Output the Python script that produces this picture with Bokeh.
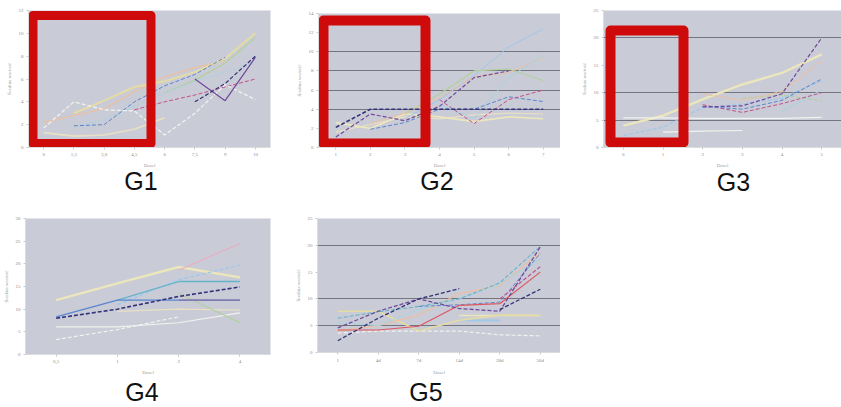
from bokeh.plotting import figure
from bokeh.models import Range1d, FixedTicker, Div
from bokeh.layouts import column, row
from bokeh.embed import file_html
from bokeh.resources import INLINE
import numpy as np

nan = float("nan")

# ---------------- data ----------------
G1_CATS = ["0", "1,5", "3,0", "4,5", "6", "7,5", "9", "10"]
G1_YELLOW = [nan, 3.0, 4.1, 5.3, 5.8, 6.6, 7.8, 10.0]
G1_GREEN = [nan, nan, nan, nan, 4.8, 5.9, 7.4, 9.6]
G1_BLUE = [nan, 1.9, 2.0, 4.0, 5.4, 6.4, 7.9, nan]
G1_NAVY = [nan, nan, nan, nan, nan, 4.0, 5.6, 8.0]
G1_PURPLE = [nan, nan, nan, nan, nan, 6.0, 4.1, 7.9]
G1_PINK = [nan, nan, nan, 3.3, 4.0, 4.6, 5.3, 6.0]
G1_WHITE = [1.7, 4.0, 3.3, 3.2, 1.1, 3.0, 5.5, 4.2]
G1_CREAM = [1.3, 1.0, 1.1, 1.6, 2.6, nan, nan, nan]
G1_TEAL = [nan, 1.8, 2.4, 3.6, 4.8, 5.8, 6.6, 7.4]
G1_PEACH = [2.2, 2.8, 3.4, 4.9, 6.2, 7.0, 7.6, nan]

G2_CATS = ["1", "2", "3", "4", "5", "6", "7"]
G2_NAVY = [2.1, 4.0, 4.0, 4.0, 4.0, 4.0, 4.0]
G2_PURPLE = [1.1, 3.5, 2.8, 4.3, 7.3, 8.0, nan]
G2_LBLUE = [nan, nan, 3.0, 5.0, 7.5, 10.5, 12.4]
G2_GREEN = [nan, nan, 3.5, 5.6, 8.0, 8.2, 7.0]
G2_PEACH = [nan, 2.5, 3.6, 5.2, 7.4, 7.8, 9.4]
G2_MAGENTA = [nan, nan, nan, 5.0, 2.5, 5.0, 6.0]
G2_BLUE = [nan, 1.9, 2.6, 4.0, 4.0, 5.3, 4.8]
G2_CYAN = [nan, nan, nan, 4.5, 3.0, 7.3, 9.6]
G2_CREAM = [1.6, 2.4, 3.2, 3.0, 3.4, 3.6, 3.5]
G2_YELLOW = [2.6, 2.0, 3.5, 3.2, 2.7, 3.2, 3.0]

G3_CATS = ["0", "1", "2", "3", "4", "5"]
G3_LBLUE = [2.2, 3.7, 7.3, 7.9, 9.0, 12.2]
G3_PURPLE = [nan, nan, 7.4, 7.6, 9.8, 20.0]
G3_PEACH = [nan, nan, 9.8, 8.6, 10.2, 15.8]
G3_MAGENTA = [nan, nan, 7.8, 6.4, 8.0, 10.0]
G3_YELLOW = [4.0, 5.8, 8.8, 11.5, 13.6, 17.0]
G3_WHITE = [nan, 2.8, 3.0, 3.1, nan, nan]
G3_CREAM = [5.4, 5.4, 5.3, 5.3, 5.3, 5.5]
G3_GREEN = [nan, nan, nan, 9.0, 9.6, 8.5]
G3_CYAN = [nan, nan, nan, nan, 6.6, 10.5]
G3_NAVY = [nan, nan, 7.5, 7.0, 8.6, 12.5]

G4_CATS = ["0,5", "1", "2", "4"]
G4_BLUE = [8.3, 12.0, 12.0, 12.0]
G4_NAVY = [8.0, 10.0, 12.8, 14.9]
G4_TEAL = [nan, 12.0, 16.1, 16.1]
G4_RED = [nan, nan, 12.0, 12.0]
G4_LBLUE = [nan, 11.0, 16.5, 19.7]
G4_PINK = [nan, nan, 18.6, 24.5]
G4_YELLOW = [12.0, 15.7, 19.3, 17.0]
G4_GREEN = [nan, nan, 13.5, 7.0]
G4_WHITE = [6.1, 6.1, 7.0, 9.2]
G4_WHITE2 = [3.3, 5.5, 8.3, nan]
G4_CREAM = [nan, 9.5, 10.0, 9.8]

G5_CATS = ["1", "4d", "7d", "14d", "28d", "56d"]
G5_NAVY = [2.2, 6.4, 10.0, 11.9, nan, nan]
G5_NAVY2 = [nan, nan, nan, nan, 8.0, 11.8]
G5_PURPLE = [4.6, 7.7, 10.0, 8.2, 7.7, 19.7]
G5_GREEN = [6.4, 7.6, 8.6, 10.0, 13.0, 19.8]
G5_BLUE = [nan, nan, 8.6, 8.9, 9.4, 18.5]
G5_RED = [4.2, 4.2, 4.9, 8.8, 9.1, 15.0]
G5_MAGENTA = [nan, nan, nan, nan, 10.0, 16.0]
G5_YELLOW = [7.7, 7.7, 4.0, 6.0, 7.0, 6.9]
G5_PEACH = [4.0, 5.0, 7.0, 11.0, 12.5, 18.6]
G5_CYAN = [5.6, 5.0, 8.0, 10.0, 12.8, 17.5]
G5_WHITE = [3.6, 4.0, 4.0, 4.0, 3.3, 3.1]
G5_LYELLOW = [nan, nan, nan, 6.9, 6.9, 6.9]
G5_LBLUE = [nan, nan, nan, 6.0, 6.0, nan]

PANEL_NAMES = ["G1", "G2", "G3", "G4", "G5"]

# ---------------- styles ----------------
COL = {"yellow": "#e4dca4", "green": "#b2d09c", "blue": "#5a86cf", "navy": "#34327a",
       "purple": "#70489c", "magenta": "#c4508a", "red": "#de5660", "lblue": "#9cc8ea",
       "white": "#f2f2ee", "cream": "#e9e0c4", "peach": "#eebf9e", "pink": "#e8aec2",
       "teal": "#66b4cc", "cyan": "#a6d4e2", "lyellow": "#ebe6bc"}
BG = "#c9cbd6"
GRID = "#74757f"
DASH = "4 2"
HL = "#cf0a0a"
TICKFONT = "Liberation Serif"

G1_LINES = [(G1_CREAM, "cream", "solid", 1.6), (G1_PEACH, "peach", "solid", 1.2),
            (G1_YELLOW, "yellow", "solid", 2.0), (G1_GREEN, "green", "solid", 1.2),
            (G1_TEAL, "cyan", DASH, 1.0), (G1_BLUE, "blue", DASH, 1.0),
            (G1_PINK, "magenta", DASH, 1.0), (G1_WHITE, "white", DASH, 1.3),
            (G1_PURPLE, "purple", "solid", 1.2), (G1_NAVY, "navy", DASH, 1.2)]
G2_LINES = [(G2_CREAM, "cream", "solid", 1.2), (G2_YELLOW, "lyellow", "solid", 1.6),
            (G2_LBLUE, "lblue", "solid", 1.0), (G2_GREEN, "green", "solid", 1.2),
            (G2_PEACH, "peach", DASH, 1.2), (G2_CYAN, "cyan", "solid", 1.0),
            (G2_BLUE, "blue", DASH, 1.0), (G2_MAGENTA, "magenta", DASH, 1.0),
            (G2_PURPLE, "purple", DASH, 1.2), (G2_NAVY, "navy", DASH, 1.6)]
G3_LINES = [(G3_YELLOW, "lyellow", "solid", 2.4), (G3_CREAM, "white", "solid", 1.2),
            (G3_WHITE, "white", "solid", 1.2), (G3_LBLUE, "lblue", DASH, 1.2),
            (G3_GREEN, "green", DASH, 1.0), (G3_CYAN, "cyan", "solid", 1.0),
            (G3_PEACH, "peach", DASH, 1.2), (G3_MAGENTA, "magenta", DASH, 1.0),
            (G3_NAVY, "blue", DASH, 1.0), (G3_PURPLE, "purple", DASH, 1.2)]
G4_LINES = [(G4_YELLOW, "lyellow", "solid", 2.4), (G4_CREAM, "cream", "solid", 1.2),
            (G4_WHITE, "white", "solid", 1.2), (G4_WHITE2, "white", DASH, 1.2),
            (G4_GREEN, "green", "solid", 1.2), (G4_PINK, "pink", "solid", 1.2),
            (G4_LBLUE, "lblue", DASH, 1.2), (G4_TEAL, "teal", "solid", 1.3),
            (G4_RED, "red", "solid", 1.3), (G4_BLUE, "blue", "solid", 1.3),
            (G4_NAVY, "navy", DASH, 1.6)]
G5_LINES = [(G5_WHITE, "white", DASH, 1.2), (G5_LYELLOW, "lyellow", "solid", 1.6),
            (G5_LBLUE, "lblue", "solid", 1.6), (G5_YELLOW, "yellow", "solid", 1.6),
            (G5_PEACH, "peach", "solid", 1.2), (G5_CYAN, "cyan", "solid", 1.0),
            (G5_GREEN, "teal", DASH, 1.1), (G5_BLUE, "blue", DASH, 1.0),
            (G5_RED, "red", "solid", 1.2), (G5_MAGENTA, "magenta", DASH, 1.1),
            (G5_PURPLE, "purple", DASH, 1.3), (G5_NAVY, "navy", DASH, 1.3),
            (G5_NAVY2, "navy", DASH, 1.3)]

LABEL_H = 30


def panel(width, height, bl, br, bt, bb, cats, ymax, ystep, grid, lines, label,
          xtitle, ytitle, label_shift, line_h=22, hl=None):
    n = len(cats)
    fh_total = height - LABEL_H
    fw = width - bl - br
    fh = fh_total - bt - bb

    def dx(px):  # figure-relative pixel -> data x
        return -0.5 + (px - bl) * n / fw

    def dy(py):  # figure-relative pixel (from top) -> data y
        return ymax - (py - bt) * ymax / fh

    p = figure(width=width, height=fh_total, x_range=Range1d(-0.5, n - 0.5),
               y_range=Range1d(0, ymax), output_backend="svg", toolbar_location=None,
               min_border_left=bl, min_border_right=br, min_border_top=bt,
               min_border_bottom=bb, title=None)
    p.background_fill_color = BG
    p.border_fill_color = "white"
    p.outline_line_color = None
    p.xgrid.grid_line_color = None
    if grid:
        p.ygrid.ticker = FixedTicker(ticks=grid)
        p.ygrid.grid_line_color = GRID
        p.ygrid.grid_line_width = 1
    else:
        p.ygrid.grid_line_color = None
    p.xaxis.ticker = FixedTicker(ticks=list(range(n)))
    p.xaxis.major_label_overrides = {i: c for i, c in enumerate(cats)}
    p.yaxis.ticker = FixedTicker(ticks=list(range(0, ymax + 1, ystep)))
    for ax in (p.xaxis[0], p.yaxis[0]):
        ax.axis_line_color = "#dcdcdc"
        ax.major_tick_line_color = "#c8c8c8"
        ax.minor_tick_line_color = None
        ax.major_tick_out = 2
        ax.major_tick_in = 0
        ax.major_label_text_font = TICKFONT
        ax.major_label_text_font_size = "5px"
        ax.major_label_text_color = "#8a8a8a"
        ax.major_label_standoff = 3
        ax.axis_label_text_font = TICKFONT
        ax.axis_label_text_font_size = "5px"
        ax.axis_label_text_font_style = "normal"
        ax.axis_label_text_color = "#9a9a9a"
        ax.axis_label_standoff = 4
    p.xaxis.axis_label = xtitle
    p.yaxis.axis_label = ytitle
    x = list(range(n))
    for vals, c, dash, w in lines:
        p.line(x, np.array(vals, dtype=float), line_color=COL[c], line_width=w,
               line_dash=dash)
    if hl is not None:
        # stroke-centre positions relative to the frame, in pixels
        l, r, t, b, lw = hl
        p.quad(left=[dx(bl + l)], right=[dx(bl + r)], top=[dy(bt + t)],
               bottom=[dy(bt + b)], fill_alpha=0, line_color=HL, line_width=lw,
               line_join="round")
    sx, sy = label_shift
    html = ('<div style="width:%dpx;text-align:center;font-family:\'Liberation Sans\','
            'Arial,sans-serif;font-size:25px;line-height:%dpx;color:#111111;'
            'position:relative;left:%dpx;top:%dpx;white-space:nowrap">%s</div>'
            % (width, line_h, sx, sy, label))
    d = Div(text=html, width=width, height=LABEL_H, margin=0)
    return column(p, d, spacing=0)


YT = "Średnia wartość"
XT = "Dosel"
c1 = panel(280, 200, 28, 10, 10, 23, G1_CATS, 12, 2, None, G1_LINES, PANEL_NAMES[0],
           XT, YT, (1, 0), hl=(4.5, 122.5, 5, 133, 9))
c2 = panel(280, 200, 38, 0, 13, 22, G2_CATS, 14, 2, [4, 6, 8, 10], G2_LINES, PANEL_NAMES[1],
           XT, YT, (17, 0), hl=(5, 107, 7, 131, 10))
c3 = panel(281, 200, 43, 0, 10, 23, G3_CATS, 25, 5, [5, 10, 20], G3_LINES, PANEL_NAMES[2],
           XT, YT, (33, 1), hl=(7, 80, 20, 132, 10))
c4 = panel(280, 207, 25, 10, 18, 22, G4_CATS, 30, 5, None, G4_LINES, PANEL_NAMES[3],
           XT, YT, (2, 1), line_h=28)
c5 = panel(280, 207, 37, 0, 18, 22, G5_CATS, 25, 5, [5, 10, 20], G5_LINES, PANEL_NAMES[4],
           XT, YT, (6, 1), line_h=28)

layout = column(row(c1, c2, c3, spacing=0), row(c4, c5, spacing=0), spacing=0)
open("out.html", "w").write(file_html(layout, INLINE))
